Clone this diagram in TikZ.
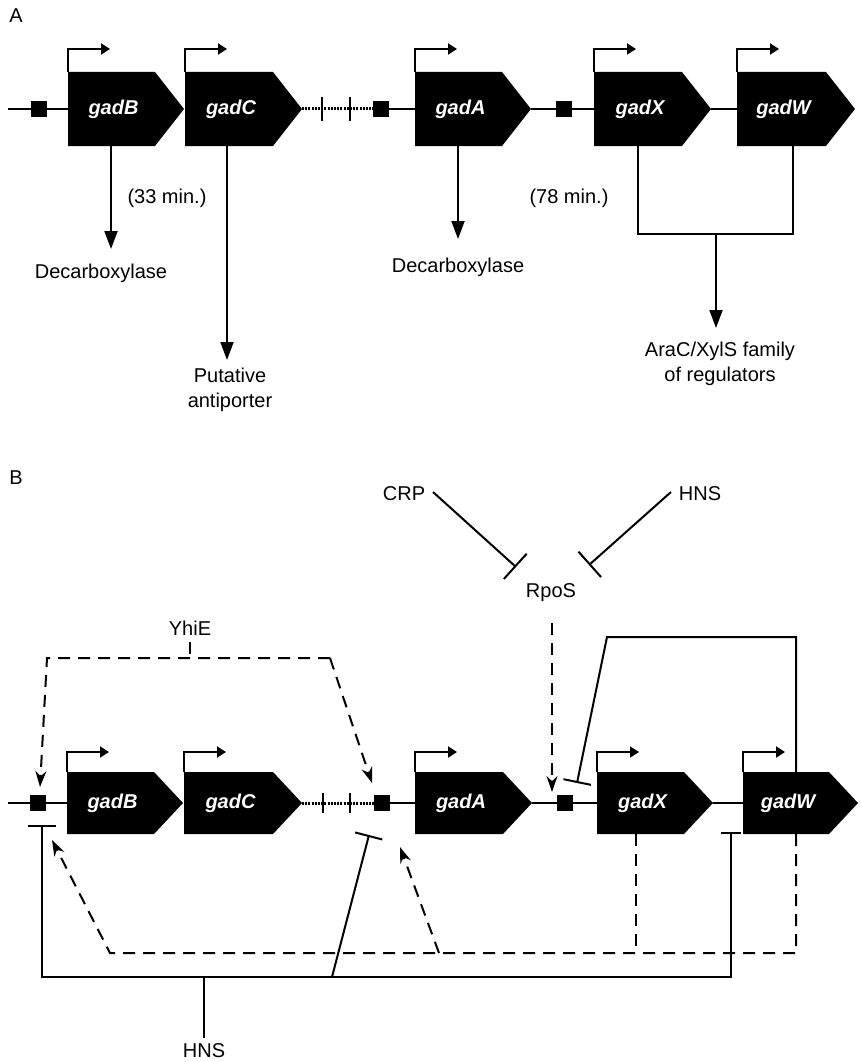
\documentclass[tikz,border=0pt]{standalone}
\usepackage{fontspec}
\setmainfont{Liberation Sans}
\usetikzlibrary{arrows.meta}
\newcommand\gene[7]{%
  \fill (#2,#4-#5) -- (#3-29,#4-#5) -- (#3,#4) -- (#3-29,#4+#5) -- (#2,#4+#5) -- cycle;
  \coordinate (#1-tl) at (#2,#4-#5);
  \node[genelabel] (#1) at ({(#2+#3-29)/2+2},#4) {#6};
  \draw[prom] (#1-tl) -- ++(0,-#7) -- ++(42,0);
}
\begin{document}
\begin{tikzpicture}[x=1pt,y=-1pt,line width=2pt,
  lbl/.style={font=\fontsize{20}{25}\selectfont,inner sep=0pt},
  genelabel/.style={font=\fontsize{20}{24}\selectfont\bfseries\itshape,text=white,inner sep=0pt},
  sq/.style={fill,minimum size=16pt,inner sep=0pt},
  prom/.style={-{Triangle[length=9pt,width=11pt]}},
  act/.style={-{Triangle[length=18pt,width=13pt]}},
  dact/.style={-{Stealth[length=16pt,width=11pt]}},
  rep/.style={-{Bar[width=28pt]}},
  dsh/.style={dash pattern=on 12pt off 8pt},
  dotline/.style={line width=3pt,dash pattern=on 2pt off 1.2pt},
]
\useasboundingbox (0,0) rectangle (860,1062);

% ---------------- Panel A ----------------
\node[lbl] (labA) at (16,16) {A};
\draw (8,109) -- (68,109);
\node[sq] (pA1) at (38.5,109) {};
\gene{aB}{68}{184}{109}{37}{gadB}{23}
\gene{aC}{185}{302}{109}{37}{gadC}{23}
\draw[dotline] (302,109) -- (373,109);
\draw (322,97) -- (322,121);
\draw (350,97) -- (350,121);
\draw (385,109) -- (415,109);
\node[sq] (pA2) at (381,109) {};
\gene{aA}{415}{531}{109}{37}{gadA}{23}
\draw (531,109) -- (594,109);
\node[sq] (pA3) at (563.5,109) {};
\gene{aX}{594}{711}{109}{37}{gadX}{23}
\draw (711,109) -- (737,109);
\gene{aW}{737}{855}{109}{37}{gadW}{23}

\coordinate (aBb) at (111,146);
\coordinate (aCb) at (227,146);
\coordinate (aAb) at (458,146);
\coordinate (aXb) at (638,146);
\coordinate (aWb) at (793,146);
\coordinate (aJ) at (716,234);
\node[lbl] (decB) at (101,273) {Decarboxylase};
\node[lbl] (m33) at (167,198) {(33 min.)};
\node[lbl,align=center] (anti) at (230,390) {Putative\\antiporter};
\node[lbl] (decA) at (458,267) {Decarboxylase};
\node[lbl] (m78) at (569,198) {(78 min.)};
\node[lbl,align=center] (arac) at (720,364) {AraC/XylS family\\of regulators};
\draw[act] (aBb) -- (111,249);
\draw[act] (aCb) -- (227,360);
\draw[act] (aAb) -- (458,239);
\draw (aXb) -- (638,234) -- (793,234) -- (aWb);
\draw[act] (aJ) -- (716,328);

% ---------------- Panel B ----------------
\node[lbl] (labB) at (16,478) {B};
\node[lbl] (crp) at (404,494) {CRP};
\node[lbl] (hnsT) at (700,494) {HNS};
\node[lbl] (rpos) at (551,593) {RpoS};
\draw[-{Bar[width=34pt]}] (433,492) -- (516,567);
\draw[-{Bar[width=34pt]}] (671,492) -- (589,565);
\draw[dsh,dact] (552,623) -- (552,792);

\node[lbl] (yhie) at (190,628) {YhiE};
\draw[dsh] (190,642) -- (190,658);
\draw[dsh,dact] (330,658) -- (47,658) -- (40,787);
\draw[dsh,dact] (330,658) -- (372,783);

\draw (8,803) -- (67,803);
\node[sq] (pB1) at (37.5,803) {};
\gene{bB}{67}{183}{803}{31}{gadB}{20}
\gene{bC}{184}{302}{803}{31}{gadC}{20}
\draw[dotline] (302,803) -- (374,803);
\draw (323,793) -- (323,813);
\draw (350,793) -- (350,813);
\draw (385,803) -- (415,803);
\node[sq] (pB2) at (381.5,803) {};
\gene{bA}{415}{532}{803}{31}{gadA}{20}
\draw (532,803) -- (597,803);
\node[sq] (pB3) at (564.5,803) {};
\gene{bX}{597}{713}{803}{31}{gadX}{20}
\draw (713,803) -- (743,803);
\gene{bW}{743}{858}{803}{31}{gadW}{20}

% feedback gadW -> gadX promoter
\draw[rep] (796,772) -- (796,637) -- (607,637) -- (577,783);

% HNS repression (bottom)
\draw[{Bar[width=28pt]}-{Bar[width=20pt]}] (42,825) -- (42,977) -- (731,977) -- (731,832);
\draw[rep] (332,977) -- (369,835);
\draw (204,977) -- (204,1038);
\node[lbl] (hnsB) at (204,1051) {HNS};

% GadX/GadW activation (dashed)
\draw[dsh] (636,834) -- (636,953);
\draw[dsh,dact] (796,834) -- (796,953) -- (110,953) -- (52,840);
\draw[dsh,dact] (439,953) -- (400,847);
\end{tikzpicture}
\end{document}
